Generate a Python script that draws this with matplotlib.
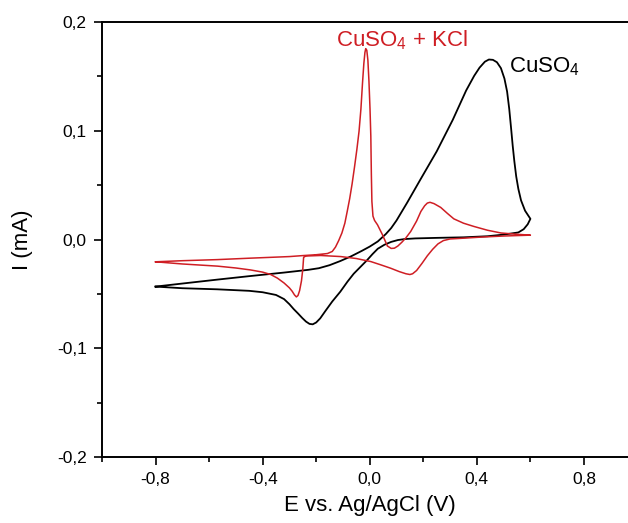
import matplotlib
matplotlib.use('Agg')
import matplotlib.pyplot as plt
from matplotlib.ticker import MultipleLocator
import numpy as np

plt.rcParams['font.family'] = ['Liberation Sans', 'DejaVu Sans']
plt.rcParams['mathtext.default'] = 'regular'

# CuSO4 - forward (anodic) then reverse scan
cu_fwd_x = [-0.80, -0.70, -0.57, -0.45, -0.32, -0.23, -0.19, -0.15, -0.11, -0.07, -0.03, 0.00,
            0.03, 0.06, 0.08, 0.10, 0.14, 0.19, 0.25, 0.31, 0.36, 0.39, 0.41, 0.43, 0.445,
            0.46, 0.475, 0.49, 0.503, 0.513, 0.521, 0.528, 0.534, 0.540, 0.547, 0.555, 0.565,
            0.58, 0.60]
cu_fwd_y = [-0.0433, -0.0405, -0.0369, -0.0337, -0.0304, -0.0279, -0.0264, -0.0236, -0.0198,
            -0.0155, -0.0105, -0.0065, -0.0018, 0.0050, 0.0105, 0.0175, 0.0340, 0.0555, 0.0810,
            0.1100, 0.1370, 0.1505, 0.1580, 0.1635, 0.1655, 0.1652, 0.1630, 0.1575, 0.1480,
            0.1360, 0.1200, 0.1020, 0.0860, 0.0720, 0.0580, 0.0465, 0.0360, 0.0265, 0.0190]
cu_rev_x = [0.60, 0.59, 0.575, 0.555, 0.50, 0.44, 0.35, 0.25, 0.17, 0.13, 0.105, 0.08, 0.055,
            0.03, 0.010, -0.01, -0.034, -0.06, -0.083, -0.11, -0.140, -0.165, -0.185, -0.200,
            -0.213, -0.225, -0.238, -0.252, -0.268, -0.284, -0.30, -0.32, -0.35, -0.40, -0.45,
            -0.57, -0.70, -0.80]
cu_rev_y = [0.0190, 0.0140, 0.0095, 0.0065, 0.0045, 0.0030, 0.0020, 0.0015, 0.0010, 0.0004,
            -0.0005, -0.0022, -0.0048, -0.0085, -0.0135, -0.0190, -0.0250, -0.0315, -0.0387,
            -0.0480, -0.0570, -0.0655, -0.0725, -0.0763, -0.0780, -0.0776, -0.0755, -0.0722,
            -0.0680, -0.0640, -0.0595, -0.0548, -0.0510, -0.0485, -0.0472, -0.0458, -0.0448,
            -0.0433]

# CuSO4 + KCl
kcl_fwd_x = [-0.80, -0.70, -0.57, -0.45, -0.30, -0.25, -0.20, -0.158, -0.140, -0.128, -0.116,
             -0.104, -0.093, -0.084, -0.075, -0.066, -0.057, -0.048, -0.040, -0.033, -0.027,
             -0.022, -0.018, -0.015, -0.011, -0.007, -0.003, 0.001, 0.004, 0.006, 0.008,
             0.012, 0.018, 0.029, 0.047, 0.066, 0.080, 0.092, 0.105, 0.120, 0.135, 0.153,
             0.175, 0.191, 0.205, 0.215, 0.225, 0.240, 0.265, 0.290, 0.314, 0.350, 0.389,
             0.440, 0.490, 0.550, 0.600]
kcl_fwd_y = [-0.0205, -0.0195, -0.0185, -0.0172, -0.0157, -0.0148, -0.0140, -0.0129, -0.0110,
             -0.0070, -0.0010, 0.0060, 0.0150, 0.0260, 0.0375, 0.0510, 0.0665, 0.0830, 0.0995,
             0.1200, 0.1440, 0.1620, 0.1720, 0.1755, 0.1740, 0.1650, 0.1456, 0.1200, 0.0950,
             0.0600, 0.0350, 0.0215, 0.0175, 0.0135, 0.0046, -0.0060, -0.0082, -0.0080,
             -0.0060, -0.0025, 0.0015, 0.0074, 0.0170, 0.0258, 0.0310, 0.0335, 0.0342, 0.0330,
             0.0295, 0.0240, 0.0190, 0.0150, 0.0120, 0.0085, 0.0060, 0.0048, 0.0040]
kcl_rev_x = [0.600, 0.50, 0.415, 0.35, 0.30, 0.275, 0.255, 0.235, 0.215, 0.195, 0.175, 0.160,
             0.150, 0.135, 0.110, 0.078, 0.040, 0.004, -0.05, -0.108, -0.183, -0.240, -0.247,
             -0.250, -0.255, -0.262, -0.268, -0.274, -0.281, -0.290, -0.30, -0.32, -0.345,
             -0.37, -0.40, -0.445, -0.50, -0.568, -0.70, -0.80]
kcl_rev_y = [0.0040, 0.0032, 0.0022, 0.0012, 0.0005, -0.0010, -0.0040, -0.0090, -0.0150,
             -0.0220, -0.0285, -0.0315, -0.0322, -0.0315, -0.0295, -0.0264, -0.0232, -0.0203,
             -0.0175, -0.0157, -0.0147, -0.0152, -0.0165, -0.0270, -0.0380, -0.0470, -0.0515,
             -0.0528, -0.0510, -0.0475, -0.0445, -0.0400, -0.0355, -0.0322, -0.0300, -0.0280,
             -0.0262, -0.0245, -0.0225, -0.0205]

xticks = [-0.8, -0.4, 0.0, 0.4, 0.8]
xtick_labels = ['-0,8', '-0,4', '0,0', '0,4', '0,8']
yticks = [-0.2, -0.1, 0.0, 0.1, 0.2]
ytick_labels = ['-0,2', '-0,1', '0,0', '0,1', '0,2']

red = '#cf1e24'

fig = plt.figure(figsize=(6.28, 5.23), dpi=100)
ax = fig.add_axes([102 / 628, 66 / 523, 535.5 / 628, 435 / 523])

ax.plot(cu_fwd_x + cu_rev_x, cu_fwd_y + cu_rev_y, color='black', lw=1.3,
        solid_joinstyle='round')
ax.plot(kcl_fwd_x + kcl_rev_x, kcl_fwd_y + kcl_rev_y, color=red, lw=1.1,
        solid_joinstyle='round')

ax.text(-0.127, 0.178, 'CuSO$_4$ + KCl', color=red, fontsize=16, ha='left', va='baseline')
ax.text(0.52, 0.154, 'CuSO$_4$', color='black', fontsize=16, ha='left', va='baseline')

ax.set_xlim(-1.0, 1.0)
ax.set_ylim(-0.2, 0.2)
ax.set_xticks(xticks)
ax.set_xticklabels(xtick_labels)
ax.set_yticks(yticks)
ax.set_yticklabels(ytick_labels)
ax.xaxis.set_minor_locator(MultipleLocator(0.2))
ax.yaxis.set_minor_locator(MultipleLocator(0.05))
ax.tick_params(which='major', direction='out', length=6, width=1.2, labelsize=12.5, pad=5)
ax.tick_params(which='minor', direction='out', length=3.5, width=1.2)
for s in ax.spines.values():
    s.set_linewidth(1.4)

ax.set_xlabel('E vs. Ag/AgCl (V)', fontsize=16)
ax.set_ylabel('I (mA)', fontsize=16)
ax.xaxis.set_label_coords(0.5, -0.088)
ax.yaxis.set_label_coords(-0.129, 0.5)

fig.savefig('out.png', dpi=100)
